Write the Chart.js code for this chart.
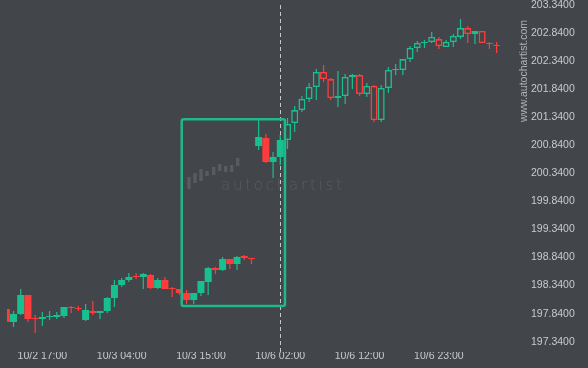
<!DOCTYPE html>
<html>
<head>
<meta charset="utf-8">
<script src="https://cdn.jsdelivr.net/npm/chart.js@4"></script>
<style>
  html, body { margin: 0; padding: 0; background: #42454a; }
  canvas { display: block; background: #42454a; }
</style>
</head>
<body>
<canvas id="chart" width="588" height="368"></canvas>
<script>
// hourly candles, 10/2 -> 10/6
const timeTicks = ['10/2 17:00', '10/3 04:00', '10/3 15:00', '10/6 02:00', '10/6 12:00', '10/6 23:00'];
const timeTickIndex = [5, 16, 27, 38, 49, 60];
const yTicks = [197.34, 197.84, 198.34, 198.84, 199.34, 199.84, 200.34, 200.84, 201.34, 201.84, 202.34, 202.84, 203.34];

const openVals = [
  197.923, 197.691, 197.834, 198.172, 197.762, 197.745, 197.780, 197.780, 197.798, 197.958,
  197.940, 197.727, 197.887, 197.851, 197.887, 198.118, 198.350, 198.439, 198.510, 198.492,
  198.528, 198.296, 198.439, 198.296, 198.279, 198.207, 198.083, 198.207, 198.403, 198.652,
  198.617, 198.813, 198.724, 198.866, 198.831, 200.824, 200.967, 200.540, 200.629, 200.931,
  201.234, 201.465, 201.661, 201.875, 202.142, 202.017, 201.679, 201.715, 202.053, 202.088,
  201.750, 201.893, 201.287, 201.857, 202.178, 202.178, 202.373, 202.569, 202.658, 202.676,
  202.729, 202.587, 202.676, 202.765, 202.925, 202.818, 202.872, 202.658, 202.623
];
const highVals = [
  197.958, 197.887, 198.279, 198.172, 197.816, 197.869, 197.887, 197.869, 197.958, 197.976,
  197.976, 198.012, 198.065, 197.887, 198.136, 198.439, 198.474, 198.563, 198.563, 198.563,
  198.546, 198.474, 198.492, 198.314, 198.279, 198.261, 198.207, 198.421, 198.670, 198.670,
  198.848, 198.813, 198.866, 198.884, 198.831, 201.287, 201.038, 200.718, 201.020, 201.323,
  201.537, 201.715, 201.946, 202.195, 202.267, 202.035, 202.160, 202.106, 202.106, 202.106,
  201.946, 201.910, 201.910, 202.231, 202.284, 202.373, 202.605, 202.694, 202.712, 202.854,
  202.765, 202.712, 202.818, 203.085, 202.961, 202.872, 202.872, 202.676, 202.676
];
const lowVals = [
  197.673, 197.602, 197.816, 197.691, 197.495, 197.620, 197.727, 197.745, 197.762, 197.851,
  197.887, 197.709, 197.816, 197.745, 197.851, 197.958, 198.314, 198.403, 198.457, 198.279,
  198.279, 198.279, 198.279, 198.136, 198.172, 198.012, 198.012, 198.154, 198.172, 198.546,
  198.599, 198.635, 198.617, 198.795, 198.724, 200.753, 200.522, 200.255, 200.486, 200.771,
  201.074, 201.430, 201.608, 201.643, 201.964, 201.643, 201.519, 201.572, 201.839, 201.715,
  201.697, 201.252, 201.252, 201.768, 202.088, 202.088, 202.320, 202.498, 202.569, 202.658,
  202.551, 202.587, 202.587, 202.729, 202.658, 202.640, 202.658, 202.551, 202.480
];
const closeVals = [
  197.691, 197.834, 198.172, 197.745, 197.745, 197.780, 197.798, 197.816, 197.958, 197.940,
  197.923, 197.905, 197.851, 197.887, 198.118, 198.350, 198.439, 198.492, 198.492, 198.546,
  198.296, 198.439, 198.279, 198.279, 198.207, 198.083, 198.207, 198.421, 198.652, 198.617,
  198.813, 198.724, 198.848, 198.831, 198.813, 200.985, 200.540, 200.629, 200.931, 201.216,
  201.465, 201.661, 201.875, 202.142, 202.017, 201.679, 201.715, 202.053, 202.088, 201.750,
  201.893, 201.287, 201.857, 202.178, 202.195, 202.373, 202.569, 202.658, 202.676, 202.765,
  202.605, 202.676, 202.783, 202.925, 202.818, 202.872, 202.658, 202.640, 202.605
];

// candles after the pattern end are drawn hollow
const hollowFrom = 39;
const patternEnd = 38;
const patternBox = { x0: 24.33, x1: 38.65, yTop: 201.30, yBottom: 197.976 };

const BG = '#42454a';
const UP = '#17c08e';
const DOWN = '#ff3b3b';
const BOX = '#1fb889';
const TEXT = '#c8cacc';

const idx = openVals.map((_, i) => i);
const isUp = idx.map(i => closeVals[i] >= openVals[i]);
const candleColor = idx.map(i => isUp[i] ? UP : DOWN);

const overlay = {
    id: 'overlay',
    beforeDatasetsDraw(chart) {
        const { ctx, chartArea, scales } = chart;
        ctx.save();

        // faint watermark logo in the middle
        ctx.fillStyle = '#585b60';
        const logoBars = [[187.3, 177, 189], [193.3, 173, 183], [199.3, 169, 181], [205.3, 171, 176], [212, 167, 175],
                          [218, 164, 171], [224, 166, 172], [230, 165, 172], [236, 158, 166]];
        logoBars.forEach(b => ctx.fillRect(b[0], b[1], 3.4, b[2] - b[1]));
        ctx.font = '300 15px "DejaVu Sans"';
        ctx.textBaseline = 'alphabetic';
        const word = 'autochartist';
        const plain = ctx.measureText(word).width;
        const sp = (121 - plain) / (word.length - 1);
        let x = 221;
        for (const ch of word) {
            ctx.fillText(ch, x, 189.5);
            x += ctx.measureText(ch).width + sp;
        }

        // dashed line at the end of the pattern
        const px = Math.round(scales.x.getPixelForValue(patternEnd)) + 0.5;
        ctx.strokeStyle = '#c4c6c8';
        ctx.lineWidth = 1;
        ctx.setLineDash([4, 3]);
        ctx.beginPath();
        ctx.moveTo(px, chartArea.top + 5);
        ctx.lineTo(px, chartArea.bottom);
        ctx.stroke();
        ctx.restore();
    },
    afterDatasetsDraw(chart) {
        const { ctx, scales } = chart;
        const x0 = scales.x.getPixelForValue(patternBox.x0);
        const x1 = scales.x.getPixelForValue(patternBox.x1);
        const y0 = scales.y.getPixelForValue(patternBox.yTop);
        const y1 = scales.y.getPixelForValue(patternBox.yBottom);
        ctx.save();
        ctx.strokeStyle = BOX;
        ctx.lineWidth = 2.5;
        ctx.beginPath();
        ctx.roundRect(x0, y0, x1 - x0, y1 - y0, 2);
        ctx.stroke();
        ctx.restore();
    },
    afterDraw(chart) {
        const { ctx } = chart;
        ctx.save();
        ctx.translate(524, 71);
        ctx.rotate(-Math.PI / 2);
        ctx.font = '10.5px "Liberation Sans"';
        ctx.fillStyle = '#b0b2b5';
        ctx.textAlign = 'center';
        ctx.textBaseline = 'middle';
        ctx.fillText('www.autochartist.com', 0, 0);
        ctx.restore();
    }
};

new Chart(document.getElementById('chart'), {
    type: 'bar',
    data: {
        datasets: [{
            label: 'body',
            data: idx.map(i => ({ x: i, y: [openVals[i], closeVals[i]] })),
            backgroundColor: idx.map(i => i >= hollowFrom ? BG : candleColor[i]),
            borderColor: candleColor,
            borderWidth: idx.map(i => i >= hollowFrom ? 1.6 : 0),
            borderSkipped: false,
            barThickness: 7,
            grouped: false,
            inflateAmount: 0,
            clip: 0
        }, {
            label: 'wick',
            data: idx.map(i => ({ x: i, y: [lowVals[i], highVals[i]] })),
            backgroundColor: candleColor,
            borderWidth: 0,
            barThickness: 1.2,
            grouped: false,
            inflateAmount: 0,
            clip: 0
        }]
    },
    options: {
        responsive: false,
        animation: false,
        events: [],
        layout: { padding: { left: 7, right: 0, top: 0, bottom: 0 } },
        plugins: {
            legend: { display: false },
            tooltip: { enabled: false }
        },
        scales: {
            x: {
                type: 'linear',
                offset: false,
                min: 0.097,
                max: 70.555,
                grid: { display: false, drawTicks: false, offset: false },
                border: { display: false },
                afterBuildTicks: s => { s.ticks = timeTickIndex.map(v => ({ value: v })); },
                afterFit: s => { s.height = 16; s.paddingLeft = 0; s.paddingRight = 0; },
                ticks: {
                    autoSkip: false,
                    maxRotation: 0,
                    padding: -2,
                    color: TEXT,
                    font: { family: '"Liberation Sans", Arial, sans-serif', size: 10.5 },
                    callback: v => timeTicks[timeTickIndex.indexOf(v)] || ''
                }
            },
            y: {
                type: 'linear',
                position: 'right',
                min: 197.157,
                max: 203.424,
                grid: { display: false, drawTicks: false },
                border: { display: false },
                afterBuildTicks: s => { s.ticks = yTicks.map(v => ({ value: v })); },
                afterFit: s => { s.width = 73; s.paddingTop = 0; s.paddingBottom = 0; },
                ticks: {
                    padding: 16,
                    color: TEXT,
                    font: { family: '"Liberation Sans", Arial, sans-serif', size: 10.5 },
                    callback: v => v.toFixed(4)
                }
            }
        }
    },
    plugins: [overlay]
});
</script>
</body>
</html>
